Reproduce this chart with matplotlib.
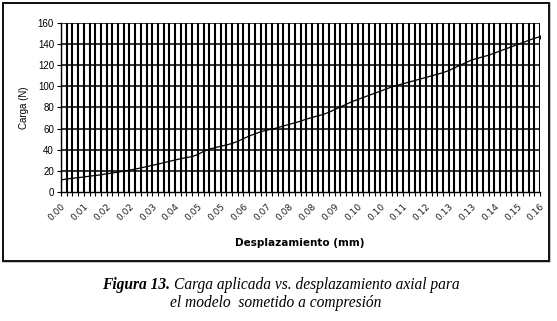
import matplotlib
matplotlib.use("Agg")
import matplotlib.pyplot as plt
from matplotlib.patches import Rectangle

carga = [11.5, 12.3, 13.0, 13.6, 14.2, 15.0, 15.6, 16.3, 17.2, 18.0,
         18.8, 19.8, 20.6, 21.7, 22.8, 24.0, 25.2, 26.4, 27.7, 29.0,
         30.3, 31.5, 32.6, 33.5, 35.5, 38.5, 40.5, 42.0, 43.3, 44.5,
         46.0, 48.0, 50.5, 53.0, 55.0, 57.0, 58.5, 59.6, 60.8, 62.5,
         64.0, 65.5, 67.0, 69.0, 70.5, 72.0, 73.5, 75.5, 78.0, 80.5,
         83.0, 85.5, 87.5, 89.5, 91.5, 93.5, 95.5, 97.5, 99.5, 101.0,
         102.5, 104.0, 105.5, 107.0, 108.5, 110.0, 111.5, 113.0, 115.0, 117.5,
         120.0, 122.5, 125.0, 126.5, 128.0, 129.5, 131.5, 133.5, 135.5, 137.5,
         139.5, 141.5, 143.5, 145.5, 147.0]
xlabels = ["0.00", "0.01", "0.02", "0.02", "0.03", "0.04", "0.05", "0.05",
           "0.06", "0.07", "0.08", "0.08", "0.09", "0.10", "0.10", "0.11",
           "0.12", "0.13", "0.13", "0.14", "0.15", "0.16"]
yticks = [0, 20, 40, 60, 80, 100, 120, 140, 160]

W, H = 557, 321
fig = plt.figure(figsize=(W / 100, H / 100), dpi=100)
fig.patch.set_facecolor("white")

# chart frame
fig.patches.append(Rectangle((3 / W, 1 - 262 / H), 547 / W, 259 / H,
                             transform=fig.transFigure, fill=False,
                             edgecolor="#bbbbbb", linewidth=1.2, zorder=0))
fig.patches.append(Rectangle((3 / W, 1 - 261 / H), 546 / W, 258 / H,
                             transform=fig.transFigure, fill=False,
                             edgecolor="black", linewidth=1.3, zorder=1))

ax = fig.add_axes([61 / W, 1 - 192 / H, (540 - 61) / W, (192 - 23) / H])
n = len(carga)
x = list(range(n))
ax.set_xlim(0, n - 1)
ax.set_ylim(0, 160)

for i in x:
    ax.axvline(i, color="black", linewidth=1.5, zorder=1)
for v in yticks[1:]:
    ax.axhline(v, color="black", linewidth=1.1, zorder=1)

ax.plot(x, carga, color="black", linewidth=0.9, marker="|", markersize=2.5,
        markeredgewidth=0.8, zorder=3)

ax.set_xticks(x, minor=True)
ax.set_xticks(x[::4])
ax.set_xticklabels(xlabels, rotation=45, ha="right", rotation_mode="anchor",
                   fontsize=6.5, family="DejaVu Sans", color="#222222")
ax.tick_params(axis="x", which="both", length=3, width=0.8, pad=4)
ax.set_yticks(yticks)
ax.set_yticklabels([str(v) for v in yticks], fontsize=7, family="Liberation Sans")
ax.tick_params(axis="y", length=3, width=0.8, pad=2)

for s in ["top", "right"]:
    ax.spines[s].set_visible(False)
ax.spines["left"].set_linewidth(1.0)
ax.spines["bottom"].set_linewidth(1.0)

ax.set_ylabel("Carga (N)", fontsize=7, family="Liberation Sans", labelpad=6)
fig.text(300 / W, 1 - 243 / H, "Desplazamiento (mm)", ha="center", va="center",
         fontsize=7.5, fontweight="bold", family="DejaVu Sans")

cap_fs = 11.2
t1 = fig.text(102 / W, 1 - 285 / H, "Figura 13.", ha="left", va="center",
              fontsize=cap_fs, family="Liberation Serif", style="italic",
              fontweight="bold")
fig.canvas.draw()
bb = t1.get_window_extent(renderer=fig.canvas.get_renderer())
fig.text((bb.x1 + 4) / W, 1 - 285 / H,
         "Carga aplicada vs. desplazamiento axial para", ha="left",
         va="center", fontsize=cap_fs, family="Liberation Serif", style="italic")
fig.text(276 / W, 1 - 303 / H, "el modelo  sometido a compresión",
         ha="center", va="center", fontsize=cap_fs, family="Liberation Serif",
         style="italic")

fig.savefig("out.png", dpi=100)
